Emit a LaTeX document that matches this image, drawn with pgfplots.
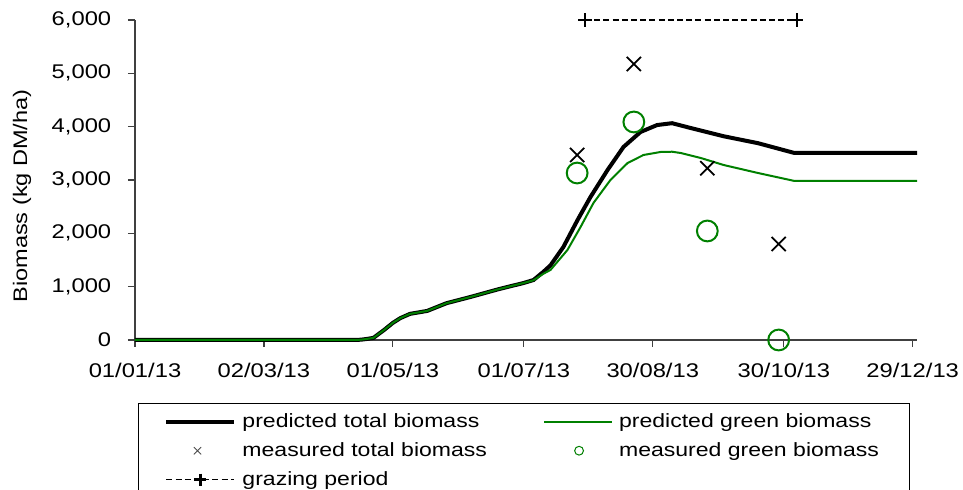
\documentclass[border=0pt]{standalone}
\usepackage{fontspec}
\setmainfont[FakeStretch=1.2]{Liberation Sans}
\usepackage{pgfplots}
\pgfplotsset{compat=1.18}
\definecolor{pgreen}{RGB}{0,128,0}
\pgfplotsset{
  lineleg/.style={legend image code/.code={\draw[##1] (0pt,0pt) -- (34pt,0pt);}},
  xleg/.style={legend image code/.code={\draw[##1, mark size=2.6pt, line width=0.4pt, black!70] plot coordinates {(15.5pt,0pt)};}},
  oleg/.style={legend image code/.code={\draw[##1, mark size=2.2pt, line width=0.5pt] plot coordinates {(17.5pt,0pt)};}},
  gleg/.style={legend image code/.code={\draw[##1, line width=0.6pt, mark size=3pt, mark repeat=2, mark phase=2] plot coordinates {(0pt,0pt) (17pt,0pt) (34pt,0pt)};}},
}
\begin{document}
\fontsize{9.6pt}{11.6pt}\selectfont
\begin{tikzpicture}
\begin{axis}[
  scale only axis, width=391pt, height=160pt,
  at={(0,0)}, anchor=south west,
  xmin=0, xmax=364, ymin=0, ymax=6000,
  axis lines*=left,
  axis line style={black!75, line width=0.6pt},
  every tick/.style={black!75, line width=0.6pt},
  xtick={0,60,120,181,241,302,362},
  xticklabels={01/01/13,02/03/13,01/05/13,01/07/13,30/08/13,30/10/13,29/12/13},
  ytick={0,1000,2000,3000,4000,5000,6000},
  tick align=outside, major tick length=3.5pt,
  scaled y ticks=false,
  /pgf/number format/1000 sep={,},
  /pgf/number format/assume math mode=true,
  y tick label style={xshift=-5pt},
  x tick label style={yshift=-4.5pt},
  tick label style={font=\fontsize{9.9pt}{11.9pt}\selectfont, black},
  ylabel={Biomass (kg DM/ha)},
  every axis y label/.style={at={(axis description cs:-0.1445,0.45)}, rotate=90, anchor=center, font=\fontsize{9.8pt}{11.8pt}\selectfont},
  clip=false,
  legend columns=2,
  legend cell align=left,
  legend style={at={(axis description cs:0.0038,-0.197)}, anchor=north west,
    draw=black, line width=0.5pt, font=\fontsize{9.6pt}{11.6pt}\selectfont,
    inner xsep=13pt, inner ysep=3pt, row sep=2pt,
    /tikz/every even column/.append style={column sep=26pt},
    /tikz/every odd column/.append style={column sep=1pt}},
]
\addplot[black, line width=2pt, lineleg] coordinates {
(0,0) (100,0) (105,5) (108,20) (111,40) (116,190) (120,320) (123.5,410) (128,490) (136,545)
(145,690) (156,805) (169,950) (181,1070) (185.5,1125) (190,1275) (193.4,1400) (199.4,1744)
(206,2250) (212,2680) (220,3190) (227.4,3620) (235.3,3900) (243,4030) (250,4065) (258.6,3975)
(274,3820) (290,3690) (306.6,3510) (364,3510)
};
\addlegendentry{predicted total biomass}
\addplot[pgreen, line width=1pt, lineleg] coordinates {
(0,0) (100,0) (105,5) (108,20) (111,40) (116,190) (120,320) (123.5,410) (128,490) (136,545)
(145,690) (156,805) (169,950) (181,1070) (185.5,1120) (190,1240) (193.4,1313) (201.3,1688)
(207.4,2119) (213.4,2569) (221.3,3000) (229.3,3319) (236.7,3469) (244.6,3525) (250,3530)
(254,3506) (263.3,3413) (274,3281) (290,3131) (306.6,2985) (364,2985)
};
\addlegendentry{predicted green biomass}
\addplot[only marks, mark=x, mark size=5pt, black, line width=0.9pt, xleg] coordinates {
(205.8,3469) (232.2,5175) (266.4,3220) (299.6,1800)
};
\addlegendentry{measured total biomass}
\addplot[only marks, mark=o, mark size=5.2pt, pgreen, line width=1pt, oleg] coordinates {
(205.8,3131) (232.2,4088) (266.4,2044) (299.6,0)
};
\addlegendentry{measured green biomass}
\addplot[black, line width=0.9pt, dash pattern=on 3pt off 1.6pt, mark=+, mark size=3.3pt,
  mark options={solid, line width=1.1pt}, gleg] coordinates {
(209.5,6000) (308,6000)
};
\addlegendentry{grazing period}
\end{axis}
\pgfresetboundingbox
\path (-67.5pt,-75pt) rectangle (414pt,170pt);
\end{tikzpicture}
\end{document}
